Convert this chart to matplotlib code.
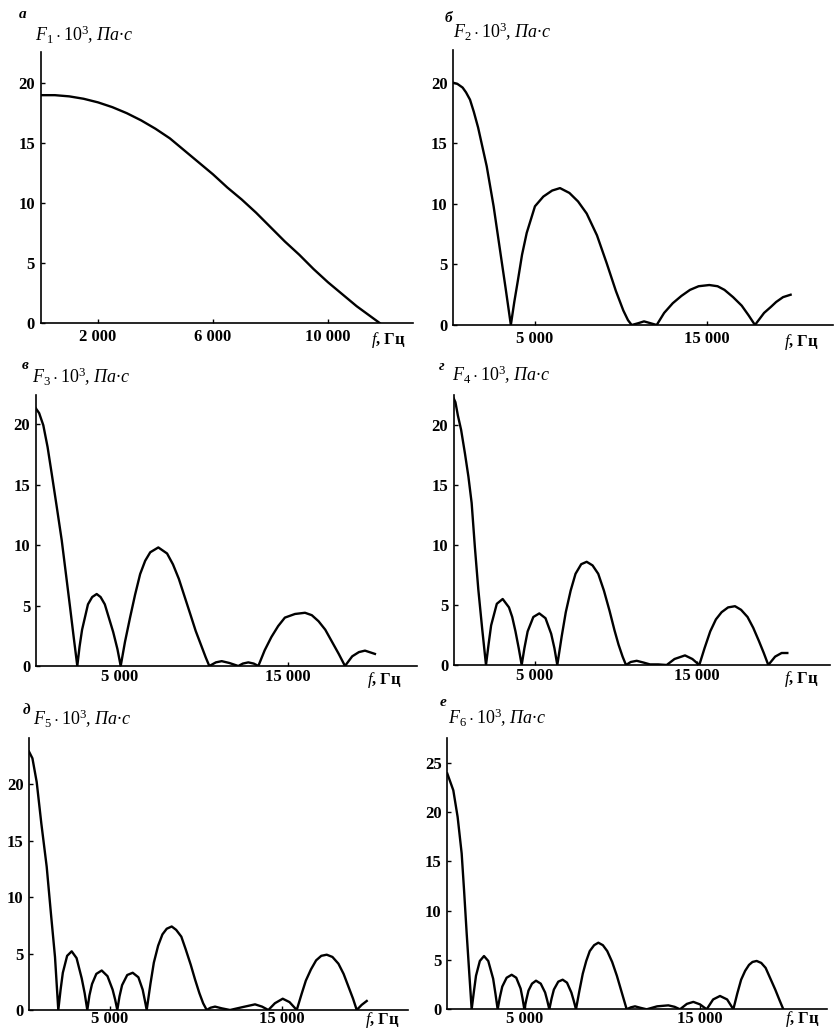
import matplotlib
matplotlib.use("Agg")
import matplotlib.pyplot as plt

plt.rcParams['font.family'] = ['Liberation Serif', 'DejaVu Serif']
plt.rcParams['mathtext.fontset'] = 'custom'
plt.rcParams['mathtext.rm'] = 'Liberation Serif'
plt.rcParams['mathtext.it'] = 'Liberation Serif:italic'
plt.rcParams['mathtext.bf'] = 'Liberation Serif:bold'

# --- data (f in Hz, F*10^3 in Pa*s) ---
f_a = [0, 500, 1000, 1500, 2000, 2500, 3000, 3500, 4000, 4500, 5000, 5500, 6000,
       6500, 7000, 7500, 8000, 8500, 9000, 9500, 10000, 10500, 11000, 11400, 11800]
F_a = [19.0, 19.0, 18.9, 18.7, 18.4, 18.0, 17.5, 16.9, 16.2, 15.4, 14.4, 13.4, 12.4,
       11.3, 10.3, 9.2, 8.0, 6.8, 5.7, 4.5, 3.4, 2.4, 1.4, 0.7, 0]

f_b = [250, 500, 800, 1000, 1230, 1450, 1700, 2200, 2600, 2970, 3300, 3600,
       3800, 4000, 4250, 4521, 5000, 5485, 6000, 6454, 7000, 7500, 8003, 8600, 9164,
       9700, 10128, 10400, 10615,
       11000, 11330, 11700, 12066,
       12500, 13000, 13500, 14000, 14500, 15120, 15600, 16000, 16500, 17000, 17400, 17771,
       18300, 18700, 19000, 19400, 19840]
F_b = [20.0, 19.9, 19.6, 19.2, 18.6, 17.6, 16.3, 13.1, 9.8, 6.2, 3.0, 0,
       1.9, 3.6, 5.8, 7.6, 9.8, 10.6, 11.1, 11.3, 10.9, 10.2, 9.2, 7.4, 5.1,
       2.8, 1.2, 0.4, 0,
       0.15, 0.3, 0.15, 0,
       1.0, 1.8, 2.4, 2.9, 3.2, 3.3, 3.2, 2.9, 2.3, 1.6, 0.8, 0,
       1.0, 1.5, 1.9, 2.3, 2.5]

f_c = [0, 200, 446, 700, 945, 1240, 1540, 1800, 2032, 2250, 2466,
       2600, 2750, 3100, 3350, 3618, 3850, 4100, 4600, 4850, 5044,
       5300, 5600, 5900, 6200, 6500, 6800, 7280, 7800, 8150, 8500, 8850, 9200,
       9500, 9800, 10100, 10310,
       10700, 11046, 11500, 12032, 12300, 12627, 12950, 13222,
       13600, 14000, 14400, 14800, 15400, 15995, 16400, 16800, 17200, 17600, 18000, 18372,
       18800, 19200, 19560, 20150]
F_c = [21.3, 20.9, 19.9, 18.1, 15.9, 13.2, 10.4, 7.5, 4.9, 2.4, 0,
       1.6, 3.0, 5.1, 5.7, 5.95, 5.7, 5.1, 2.8, 1.4, 0,
       2.0, 4.0, 5.9, 7.6, 8.7, 9.4, 9.8, 9.3, 8.4, 7.2, 5.7, 4.2,
       2.9, 1.8, 0.7, 0,
       0.3, 0.4, 0.25, 0, 0.2, 0.3, 0.2, 0,
       1.3, 2.4, 3.3, 4.0, 4.3, 4.4, 4.2, 3.7, 3.0, 2.0, 1.0, 0,
       0.8, 1.15, 1.27, 1.0]

f_d = [0, 100, 250, 450, 690, 900, 1100, 1300, 1510, 1750, 1984,
       2150, 2300, 2650, 3012, 3400, 3600, 3800, 4000, 4183,
       4350, 4550, 4900, 5268, 5650, 6000, 6200, 6377,
       6650, 6900, 7200, 7500, 7850, 8188, 8550, 8900, 9250, 9600, 9900, 10150, 10400, 10610,
       10900, 11270, 11700, 12089, 12600, 13117, 13600, 14245, 14700, 15126,
       15450, 15800, 16150, 16500, 16900, 17326, 17700, 18100, 18450, 18800, 19100, 19378,
       19800, 20200, 20550]
F_d = [22.2, 21.9, 20.8, 19.6, 17.6, 15.7, 13.5, 9.8, 6.3, 3.0, 0,
       1.8, 3.3, 5.1, 5.5, 4.8, 4.0, 2.8, 1.4, 0,
       1.4, 2.8, 4.0, 4.3, 3.9, 2.6, 1.4, 0,
       2.4, 4.4, 6.2, 7.6, 8.4, 8.6, 8.3, 7.6, 6.2, 4.5, 2.9, 1.7, 0.7, 0,
       0.25, 0.35, 0.2, 0.05, 0.05, 0, 0.5, 0.8, 0.5, 0,
       1.4, 2.8, 3.8, 4.4, 4.8, 4.9, 4.6, 4.0, 3.1, 2.0, 1.0, 0,
       0.7, 1.0, 1.0]

f_e = [280, 480, 728, 1000, 1310, 1560, 1794, 1986,
       2120, 2250, 2500, 2766, 3050, 3350, 3520, 3675,
       3800, 3950, 4200, 4514, 4850, 5150, 5300, 5422,
       5550, 5700, 6000, 6319, 6650, 6900, 7020, 7134,
       7350, 7550, 7800, 8050, 8300, 8590, 8850, 9150, 9400, 9700, 9950, 10200, 10420, 10629,
       10850, 11113, 11500, 11986, 12700, 13443, 13850, 14218,
       14600, 15055, 15450, 15871,
       16150, 16400, 16700, 17000, 17300, 17618, 17950, 18300, 18600, 18900, 19150, 19365,
       19650, 19947]
F_e = [22.9, 22.3, 20.2, 16.5, 12.7, 8.5, 4.7, 0,
       1.8, 3.3, 4.8, 5.2, 4.6, 2.8, 1.5, 0,
       1.3, 2.3, 3.2, 3.5, 3.0, 1.8, 0.9, 0,
       1.2, 2.2, 3.1, 3.3, 2.9, 1.8, 0.9, 0,
       2.3, 4.2, 5.7, 6.7, 7.2, 7.4, 7.1, 6.5, 5.4, 4.0, 2.7, 1.5, 0.6, 0,
       0.2, 0.3, 0.15, 0, 0.25, 0.5, 0.3, 0,
       0.6, 1.0, 0.7, 0,
       1.4, 2.6, 3.6, 4.4, 4.8, 4.9, 4.7, 4.1, 3.2, 2.0, 1.0, 0,
       0.45, 0.8]

f_f = [560, 903, 1150, 1381, 1520, 1667, 1810, 1952,
       2080, 2200, 2420, 2657, 2900, 3180, 3310, 3438,
       3560, 3700, 3950, 4238, 4500, 4750, 4860, 4962,
       5080, 5200, 5400, 5628, 5900, 6150, 6270, 6390,
       6520, 6650, 6900, 7152, 7400, 7650, 7780, 7914,
       8100, 8300, 8500, 8700, 8950, 9190, 9450, 9700, 9980, 10250, 10530, 10810,
       11050, 11286, 11600, 11952, 12550, 13190, 13550, 13857,
       14250, 14619, 15000, 15381, 15750, 16143, 16550, 16905,
       17130, 17350, 17580, 17800, 18000, 18238, 18500, 18750, 19000, 19300, 19550, 19762]
F_f = [23.9, 22.2, 19.5, 15.8, 12.0, 7.7, 3.8, 0,
       1.8, 3.4, 4.9, 5.4, 4.9, 3.1, 1.6, 0,
       1.2, 2.3, 3.2, 3.5, 3.2, 2.1, 1.1, 0,
       1.0, 1.9, 2.6, 2.9, 2.6, 1.7, 0.9, 0,
       1.1, 2.0, 2.8, 3.0, 2.7, 1.7, 0.9, 0,
       1.8, 3.6, 4.9, 5.9, 6.5, 6.75, 6.5, 5.9, 4.8, 3.4, 1.7, 0,
       0.2, 0.3, 0.15, 0, 0.3, 0.4, 0.25, 0,
       0.55, 0.75, 0.5, 0, 1.0, 1.35, 1.0, 0,
       1.6, 3.0, 3.9, 4.5, 4.8, 4.9, 4.7, 4.2, 3.2, 2.0, 0.9, 0]

letters = ['а', 'б', 'в', 'г', 'д', 'е']
ylabels = [r'$F_%d\cdot10^3$, Па·с' % i for i in range(1, 7)]
xlabel = r'$f$, Гц'

W, H = 834, 1030
fig = plt.figure(figsize=(W / 100, H / 100), dpi=100)

# panel geometry in pixels: left, right, bottom, top ; axis limits
panels = [
    dict(px=(40.5, 413, 323, 52), xlim=(0, 12960), ylim=(0, 22.6), f=f_a, F=F_a,
         xt=[2000, 6000, 10000], yt=[0, 5, 10, 15, 20], xl=12087, pad=4.5, lpad=5,
         lab=(35, 35), let=(23, 15)),
    dict(px=(453.3, 833, 325, 50), xlim=(260, 22300), ylim=(0, 22.7), f=f_b, F=F_b,
         xt=[5000, 15000], yt=[0, 5, 10, 15, 20], xl=20440, pad=4.5, lpad=5,
         lab=(453, 32), let=(448, 19)),
    dict(px=(35.8, 417, 666, 395), xlim=(0, 22650), ylim=(0, 22.4), f=f_c, F=F_c,
         xt=[5000, 15000], yt=[0, 5, 10, 15, 20], xl=20690, pad=2.5, lpad=3,
         lab=(32, 377), let=(25, 365)),
    dict(px=(453.8, 830, 665, 395), xlim=(0, 23180), ylim=(0, 22.5), f=f_d, F=F_d,
         xt=[5000, 15000], yt=[0, 5, 10, 15, 20], xl=21390, pad=2.5, lpad=3,
         lab=(452, 375), let=(442, 367)),
    dict(px=(29, 408, 1010, 738), xlim=(280, 22350), ylim=(0, 24.1), f=f_e, F=F_e,
         xt=[5000, 15000], yt=[0, 5, 10, 15, 20], xl=20840, pad=1.0, lpad=0,
         lab=(33, 719), let=(27, 710)),
    dict(px=(447.3, 826.7, 1009.3, 738), xlim=(560, 22240), ylim=(0, 27.5), f=f_f, F=F_f,
         xt=[5000, 15000], yt=[0, 5, 10, 15, 20, 25], xl=20830, pad=1.0, lpad=0,
         lab=(448, 718), let=(443, 703)),
]

for i, p in enumerate(panels):
    l, r, b, t = p['px']
    ax = fig.add_axes([l / W, 1 - b / H, (r - l) / W, (b - t) / H])
    ax.plot(p['f'], p['F'], color='black', lw=1.7, solid_joinstyle='round')
    ax.set_xlim(*p['xlim'])
    ax.set_ylim(*p['ylim'])
    ax.spines['top'].set_visible(False)
    ax.spines['right'].set_visible(False)
    ax.spines['left'].set_linewidth(1.2)
    ax.spines['bottom'].set_linewidth(1.2)
    ax.set_xticks(p['xt'])
    ax.set_xticklabels(['{:,}'.format(v).replace(',', ' ') for v in p['xt']])
    ax.set_yticks(p['yt'])
    ax.set_yticklabels([str(v) for v in p['yt']])
    ax.tick_params(direction='in', length=3, width=1, labelsize=12)
    ax.tick_params(axis='y', pad=4)
    ax.tick_params(axis='x', pad=p['pad'])
    for lbl in ax.get_xticklabels() + ax.get_yticklabels():
        lbl.set_fontweight('bold')
    ax.annotate(xlabel, xy=(p['xl'], 0), xycoords=ax.get_xaxis_transform(),
                xytext=(0, -p['lpad']), textcoords='offset points',
                ha='center', va='top', fontsize=12, fontweight='bold')
    fig.text(p['lab'][0] / W, 1 - p['lab'][1] / H, ylabels[i],
             ha='left', va='center', fontsize=13, style='italic')
    fig.text(p['let'][0] / W, 1 - p['let'][1] / H, letters[i],
             ha='center', va='center', fontsize=11, style='italic', fontweight='bold')

fig.savefig('out.png', dpi=100)
